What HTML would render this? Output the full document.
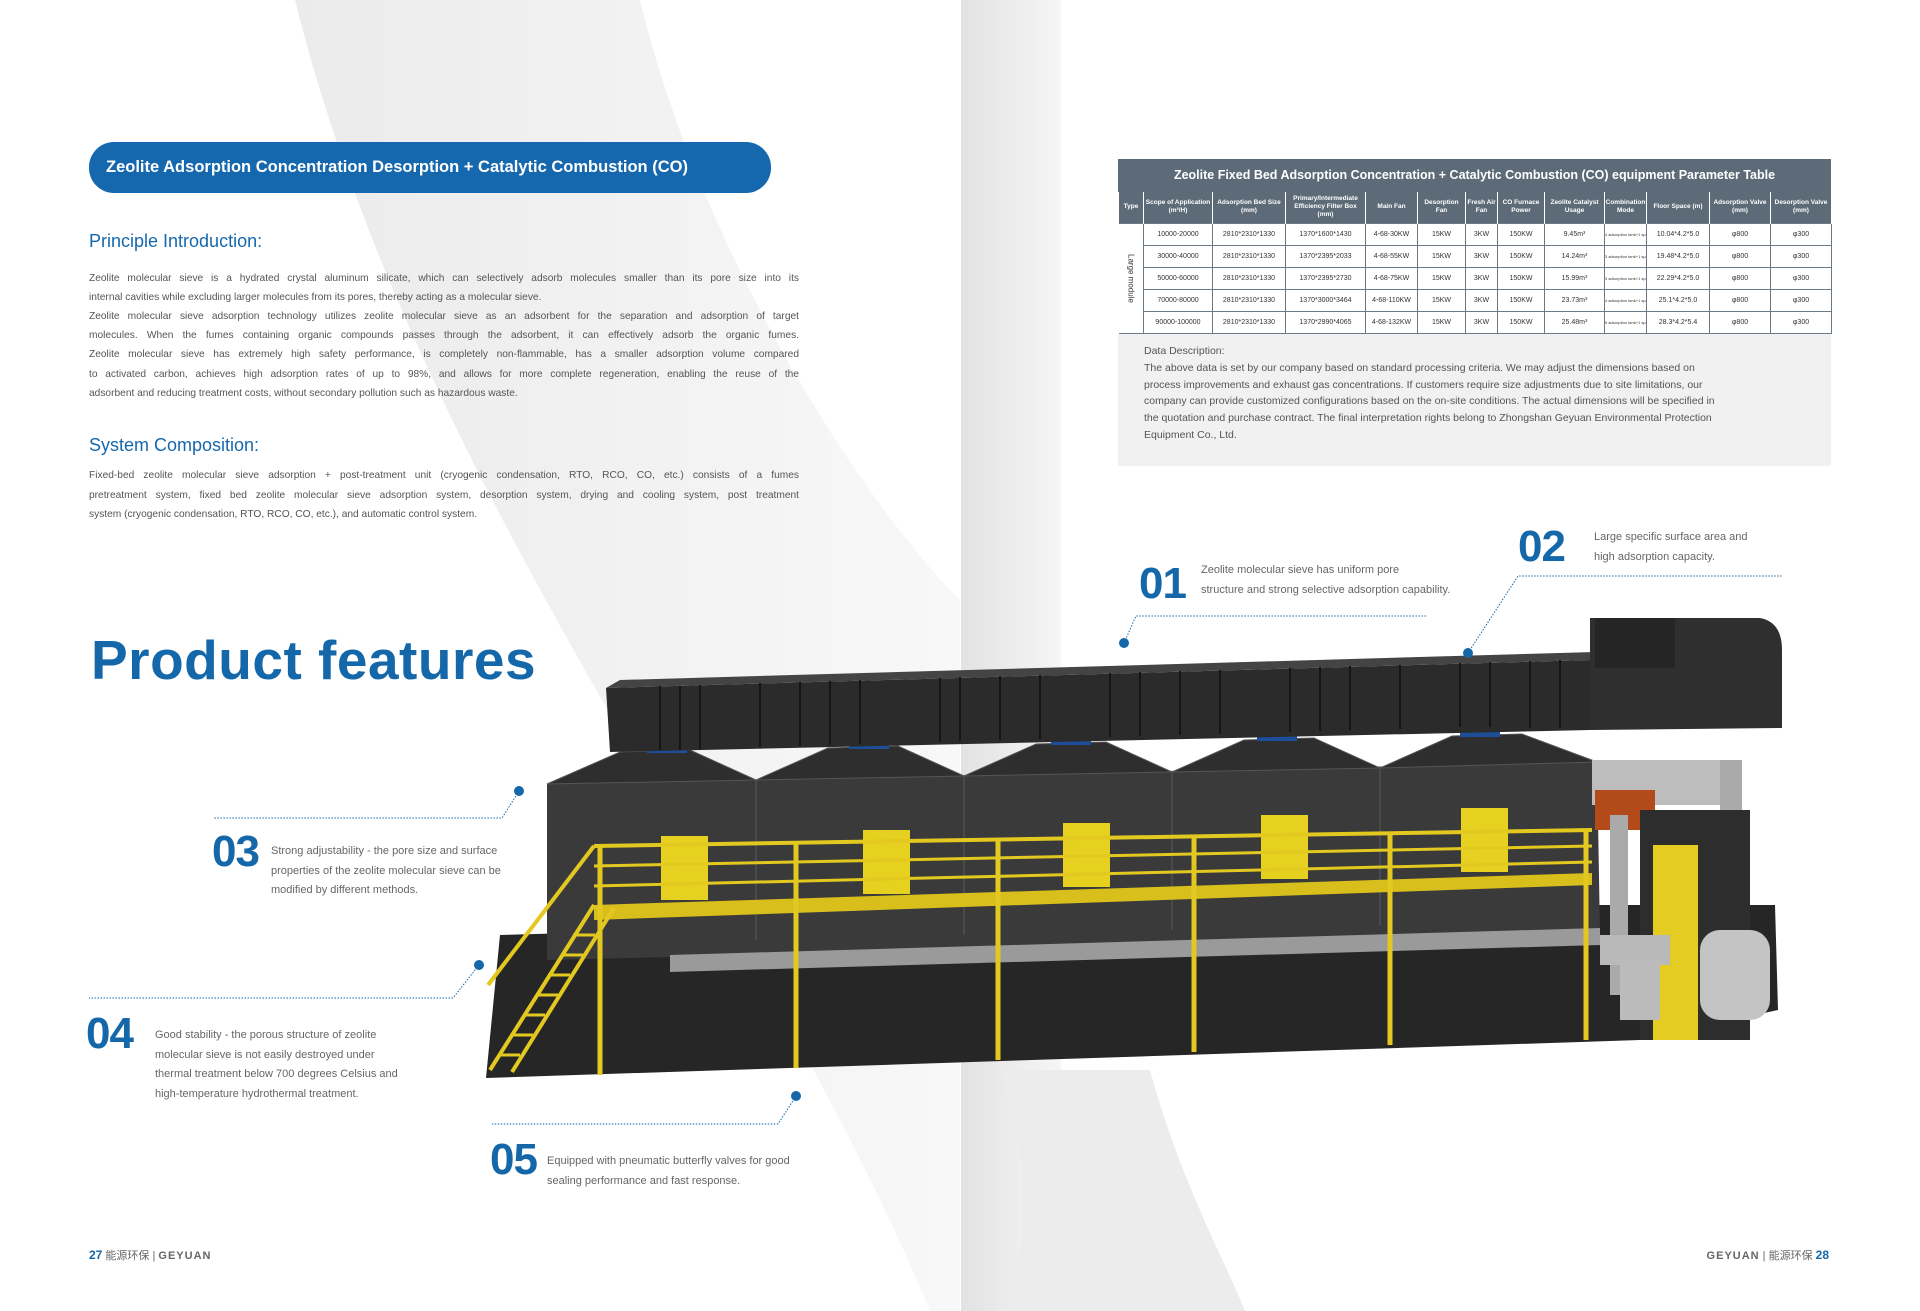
<!DOCTYPE html>
<html><head><meta charset="utf-8">
<style>
*{margin:0;padding:0;box-sizing:border-box}
body{width:1920px;height:1311px;position:relative;overflow:hidden;background:#fff;font-family:"Liberation Sans","Noto Sans CJK SC",sans-serif}
.a{position:absolute;white-space:nowrap}
.bl{color:#1668ae}
.p{position:absolute;left:89px;width:710px;font-size:10.2px;color:#555;text-align:justify;text-align-last:justify;white-space:nowrap;line-height:12px}
.p.n{text-align-last:left}
.num{position:absolute;font-weight:bold;font-size:44px;color:#1467a9;letter-spacing:-1px;line-height:44px}
.ft{position:absolute;font-size:11px;color:#666;line-height:19.5px;white-space:nowrap}
table{border-collapse:collapse;font-size:7px;color:#333;text-align:center;table-layout:fixed;white-space:normal}
td{border:1px solid #6b7a86;height:22px;padding:0;overflow:hidden;white-space:nowrap}
th{background:#5c6b77;color:#fff;font-weight:bold;font-size:6.5px;border:1px solid #fff;border-top:none;border-bottom:none;height:31px;line-height:8px;white-space:normal;overflow:hidden}
</style></head><body>
<svg class="a" style="left:0;top:0" width="1920" height="1311">
<defs>
<linearGradient id="g1" x1="0" x2="1"><stop offset="0" stop-color="#ebebeb"/><stop offset="1" stop-color="#f8f8f8"/></linearGradient>
<linearGradient id="g2" x1="0" x2="1"><stop offset="0" stop-color="#e2e2e2"/><stop offset="1" stop-color="#f6f6f6"/></linearGradient>
</defs>
<path d="M295 0 L640 0 C700 250 860 500 960 600 L960 1311 L930 1311 C760 900 420 500 295 0Z" fill="url(#g1)"/>
<rect x="961" y="0" width="100" height="1311" fill="url(#g2)"/>
<path d="M1010 1311 C1040 1180 1010 1100 1000 1070 L1150 1070 C1180 1180 1220 1250 1245 1311Z" fill="#ececec"/>
<!-- machine base -->
<polygon points="486,1078 500,935 1600,905 1775,905 1778,1010 1640,1040" fill="#262626"/>
<polygon points="547,960 547,784 1597,762 1600,935" fill="#3a3a3a"/>
<g fill="#2e2e2e" stroke="#555" stroke-width="1">
<polygon points="547,784 620,752 690,750 756,780"/>
<polygon points="756,780 828,748 898,746 964,776"/>
<polygon points="964,776 1036,744 1106,742 1172,772"/>
<polygon points="1172,772 1244,740 1314,738 1380,768"/>
<polygon points="1380,768 1452,736 1522,734 1597,762"/>
</g>
<g fill="#1d4e9a"><rect x="647" y="735" width="40" height="18"/><rect x="849" y="731" width="40" height="18"/><rect x="1051" y="727" width="40" height="18"/><rect x="1257" y="723" width="40" height="18"/><rect x="1460" y="719" width="40" height="18"/></g>
<g stroke="#4a4a4a" stroke-width="2"><line x1="756" y1="780" x2="756" y2="940"/><line x1="964" y1="776" x2="964" y2="935"/><line x1="1172" y1="772" x2="1172" y2="930"/><line x1="1380" y1="768" x2="1380" y2="925"/></g>
<!-- right equipment -->
<rect x="1592" y="760" width="150" height="45" fill="#bdbdbd"/>
<rect x="1720" y="760" width="22" height="70" fill="#aaa"/>
<rect x="1595" y="790" width="60" height="40" fill="#b34a1a"/>
<rect x="1640" y="810" width="110" height="230" fill="#2d2d2d"/>
<rect x="1653" y="845" width="45" height="195" fill="#e4cc22"/>
<rect x="1610" y="815" width="18" height="180" fill="#aaa"/>
<rect x="1600" y="935" width="70" height="30" fill="#b9b9b9"/>
<rect x="1700" y="930" width="70" height="90" rx="20" fill="#c4c4c4"/>
<rect x="1620" y="960" width="40" height="60" fill="#bbb"/>
<!-- duct -->
<polygon points="606,688 1590,660 1590,730 610,752" fill="#2b2b2b"/>
<polygon points="606,688 620,680 1595,652 1590,660" fill="#444"/>
<path d="M1590 618 L1760 618 Q1782 622 1782 650 L1782 728 L1590 730Z" fill="#2f2f2f"/>
<rect x="1595" y="618" width="80" height="50" fill="#252525"/>
<g stroke="#151515" stroke-width="2">
<line x1="660" y1="686" x2="660" y2="750"/><line x1="680" y1="686" x2="680" y2="750"/><line x1="700" y1="685" x2="700" y2="749"/>
<line x1="760" y1="683" x2="760" y2="747"/><line x1="800" y1="682" x2="800" y2="746"/><line x1="830" y1="681" x2="830" y2="745"/><line x1="860" y1="680" x2="860" y2="744"/>
<line x1="940" y1="678" x2="940" y2="742"/><line x1="960" y1="677" x2="960" y2="741"/><line x1="1000" y1="676" x2="1000" y2="740"/><line x1="1040" y1="675" x2="1040" y2="739"/>
<line x1="1110" y1="673" x2="1110" y2="737"/><line x1="1140" y1="672" x2="1140" y2="736"/><line x1="1180" y1="671" x2="1180" y2="735"/><line x1="1220" y1="670" x2="1220" y2="734"/>
<line x1="1290" y1="668" x2="1290" y2="732"/><line x1="1320" y1="667" x2="1320" y2="731"/><line x1="1350" y1="666" x2="1350" y2="730"/><line x1="1400" y1="665" x2="1400" y2="729"/>
<line x1="1460" y1="663" x2="1460" y2="727"/><line x1="1490" y1="662" x2="1490" y2="727"/><line x1="1530" y1="661" x2="1530" y2="728"/><line x1="1560" y1="660" x2="1560" y2="728"/>
</g>
<!-- doors -->
<g fill="#e6d020"><rect x="661" y="836" width="47" height="64"/><rect x="863" y="830" width="47" height="64"/><rect x="1063" y="823" width="47" height="64"/><rect x="1261" y="815" width="47" height="64"/><rect x="1461" y="808" width="47" height="64"/></g>
<polygon points="670,955 1600,928 1600,945 670,972" fill="#9a9a9a"/>
<!-- platform -->
<g stroke="#e3c91f" fill="none">
<polygon points="594,905 1592,873 1592,885 594,920" fill="#d8bf1c" stroke="none"/>
<line x1="594" y1="846" x2="1592" y2="830" stroke-width="4"/>
<line x1="594" y1="866" x2="1592" y2="846" stroke-width="3"/>
<line x1="594" y1="886" x2="1592" y2="862" stroke-width="3"/>
<g stroke-width="5"><line x1="600" y1="846" x2="600" y2="1075"/><line x1="796" y1="842" x2="796" y2="1068"/><line x1="998" y1="838" x2="998" y2="1060"/><line x1="1194" y1="835" x2="1194" y2="1052"/><line x1="1390" y1="832" x2="1390" y2="1045"/><line x1="1586" y1="830" x2="1586" y2="1040"/></g>
<g stroke-width="4"><line x1="490" y1="1070" x2="594" y2="905"/><line x1="512" y1="1072" x2="614" y2="908"/><line x1="488" y1="985" x2="594" y2="846"/></g>
<g stroke-width="3"><line x1="498" y1="1055" x2="520" y2="1055"/><line x1="511" y1="1035" x2="533" y2="1035"/><line x1="523" y1="1015" x2="545" y2="1015"/><line x1="536" y1="995" x2="558" y2="995"/><line x1="548" y1="975" x2="570" y2="975"/><line x1="561" y1="955" x2="583" y2="955"/><line x1="573" y1="935" x2="595" y2="935"/></g>
</g>
<g stroke="#1467a9" stroke-width="1" stroke-dasharray="1.5,1.5" fill="none">
<polyline points="1124,643 1136,616 1427,616"/>
<polyline points="1468,653 1518,576 1782,576"/>
<polyline points="519,791 502,818 214,818"/>
<polyline points="479,965 453,998 89,998"/>
<polyline points="796,1096 778,1124 492,1124"/>
</g>
<g fill="#1467a9"><circle cx="1124" cy="643" r="5"/><circle cx="1468" cy="653" r="5"/><circle cx="519" cy="791" r="5"/><circle cx="479" cy="965" r="5"/><circle cx="796" cy="1096" r="5"/></g>
</svg>

<div class="a" style="left:89px;top:142px;width:682px;height:51px;border-radius:25px;background:#1668ae;color:#fff;font-weight:bold;font-size:16.5px;line-height:51px;padding-left:17px">Zeolite Adsorption Concentration Desorption + Catalytic Combustion (CO)</div>
<div class="a bl" style="left:89px;top:231px;font-size:18px">Principle Introduction:</div>
<div class="p" style="top:273px">Zeolite molecular sieve is a hydrated crystal aluminum silicate, which can selectively adsorb molecules smaller than its pore size into its</div>
<div class="p n" style="top:292px">internal cavities while excluding larger molecules from its pores, thereby acting as a molecular sieve.</div>
<div class="p" style="top:311px">Zeolite molecular sieve adsorption technology utilizes zeolite molecular sieve as an adsorbent for the separation and adsorption of target</div>
<div class="p" style="top:330px">molecules. When the fumes containing organic compounds passes through the adsorbent, it can effectively adsorb the organic fumes.</div>
<div class="p" style="top:349px">Zeolite molecular sieve has extremely high safety performance, is completely non-flammable, has a smaller adsorption volume compared</div>
<div class="p" style="top:369px">to activated carbon, achieves high adsorption rates of up to 98%, and allows for more complete regeneration, enabling the reuse of the</div>
<div class="p n" style="top:388px">adsorbent and reducing treatment costs, without secondary pollution such as hazardous waste.</div>
<div class="a bl" style="left:89px;top:435px;font-size:18px">System Composition:</div>
<div class="p" style="top:470px">Fixed-bed zeolite molecular sieve adsorption + post-treatment unit (cryogenic condensation, RTO, RCO, CO, etc.) consists of a fumes</div>
<div class="p" style="top:490px">pretreatment system, fixed bed zeolite molecular sieve adsorption system, desorption system, drying and cooling system, post treatment</div>
<div class="p n" style="top:509px">system (cryogenic condensation, RTO, RCO, CO, etc.), and automatic control system.</div>

<div class="a" style="left:91px;top:628px;font-size:55px;font-weight:bold;color:#1467a9;letter-spacing:0.5px">Product features</div>

<div class="num" style="left:1139px;top:562px">01</div>
<div class="ft" style="left:1201px;top:561px">Zeolite molecular sieve has uniform pore<br>structure and strong selective adsorption capability.</div>
<div class="num" style="left:1518px;top:525px">02</div>
<div class="ft" style="left:1594px;top:528px">Large specific surface area and<br>high adsorption capacity.</div>
<div class="num" style="left:212px;top:830px">03</div>
<div class="ft" style="left:271px;top:842px">Strong adjustability - the pore size and surface<br>properties of the zeolite molecular sieve can be<br>modified by different methods.</div>
<div class="num" style="left:86px;top:1012px">04</div>
<div class="ft" style="left:155px;top:1026px">Good stability - the porous structure of zeolite<br>molecular sieve is not easily destroyed under<br>thermal treatment below 700 degrees Celsius and<br>high-temperature hydrothermal treatment.</div>
<div class="num" style="left:490px;top:1138px">05</div>
<div class="ft" style="left:547px;top:1152px">Equipped with pneumatic butterfly valves for good<br>sealing performance and fast response.</div>

<div class="a" style="left:1118px;top:159px;width:713px;height:307px;background:#f1f1f1"></div>
<div class="a" style="left:1118px;top:159px;width:713px;height:33px;background:#5c6b77;color:#fff;font-weight:bold;font-size:12.5px;line-height:33px;text-align:center">Zeolite Fixed Bed Adsorption Concentration + Catalytic Combustion (CO) equipment Parameter Table</div>
<table class="a" style="left:1118px;top:192px;width:713px;background:#fff">
<colgroup><col style="width:25px"><col style="width:69px"><col style="width:73px"><col style="width:80px"><col style="width:52px"><col style="width:48px"><col style="width:32px"><col style="width:47px"><col style="width:60px"><col style="width:42px"><col style="width:63px"><col style="width:61px"><col style="width:61px"></colgroup>
<tr><th>Type</th><th>Scope of Application (m³/H)</th><th>Adsorption Bed Size (mm)</th><th>Primary/Intermediate Efficiency Filter Box (mm)</th><th>Main Fan</th><th>Desorption Fan</th><th>Fresh Air Fan</th><th>CO Furnace Power</th><th>Zeolite Catalyst Usage</th><th>Combination Mode</th><th>Floor Space (m)</th><th>Adsorption Valve (mm)</th><th>Desorption Valve (mm)</th></tr>
<tr><td rowspan="5" style="border-left:none;font-size:8px"><div style="writing-mode:vertical-rl;margin:auto">Large module</div></td><td>10000-20000</td><td>2810*2310*1330</td><td>1370*1600*1430</td><td>4-68-30KW</td><td>15KW</td><td>3KW</td><td>150KW</td><td>9.45m³</td><td style="font-size:4px">4 adsorption tank+1 spare</td><td>10.04*4.2*5.0</td><td>φ800</td><td>φ300</td></tr>
<tr><td>30000-40000</td><td>2810*2310*1330</td><td>1370*2395*2033</td><td>4-68-55KW</td><td>15KW</td><td>3KW</td><td>150KW</td><td>14.24m³</td><td style="font-size:4px">3 adsorption tank+1 spare</td><td>19.48*4.2*5.0</td><td>φ800</td><td>φ300</td></tr>
<tr><td>50000-60000</td><td>2810*2310*1330</td><td>1370*2395*2730</td><td>4-68-75KW</td><td>15KW</td><td>3KW</td><td>150KW</td><td>15.99m³</td><td style="font-size:4px">3 adsorption tank+1 spare</td><td>22.29*4.2*5.0</td><td>φ800</td><td>φ300</td></tr>
<tr><td>70000-80000</td><td>2810*2310*1330</td><td>1370*3000*3464</td><td>4-68-110KW</td><td>15KW</td><td>3KW</td><td>150KW</td><td>23.73m³</td><td style="font-size:4px">4 adsorption tank+1 spare</td><td>25.1*4.2*5.0</td><td>φ800</td><td>φ300</td></tr>
<tr><td>90000-100000</td><td>2810*2310*1330</td><td>1370*2990*4065</td><td>4-68-132KW</td><td>15KW</td><td>3KW</td><td>150KW</td><td>25.48m³</td><td style="font-size:4px">5 adsorption tank+1 spare</td><td>28.3*4.2*5.4</td><td>φ800</td><td>φ300</td></tr>
</table>
<div class="a" style="left:1144px;top:343px;font-size:10.5px;color:#555;line-height:16.8px">Data Description:<br>The above data is set by our company based on standard processing criteria. We may adjust the dimensions based on<br>process improvements and exhaust gas concentrations. If customers require size adjustments due to site limitations, our<br>company can provide customized configurations based on the on-site conditions. The actual dimensions will be specified in<br>the quotation and purchase contract. The final interpretation rights belong to Zhongshan Geyuan Environmental Protection<br>Equipment Co., Ltd.</div>

<div class="a" style="left:89px;top:1247px;font-size:11px;color:#666"><b style="color:#1467a9;font-size:12px">27</b> 能源环保 | <b style="letter-spacing:1px">GEYUAN</b></div>
<div class="a" style="right:91px;top:1247px;font-size:11px;color:#666"><b style="letter-spacing:1px">GEYUAN</b> | 能源环保 <b style="color:#1467a9;font-size:12px">28</b></div>
</body></html>
